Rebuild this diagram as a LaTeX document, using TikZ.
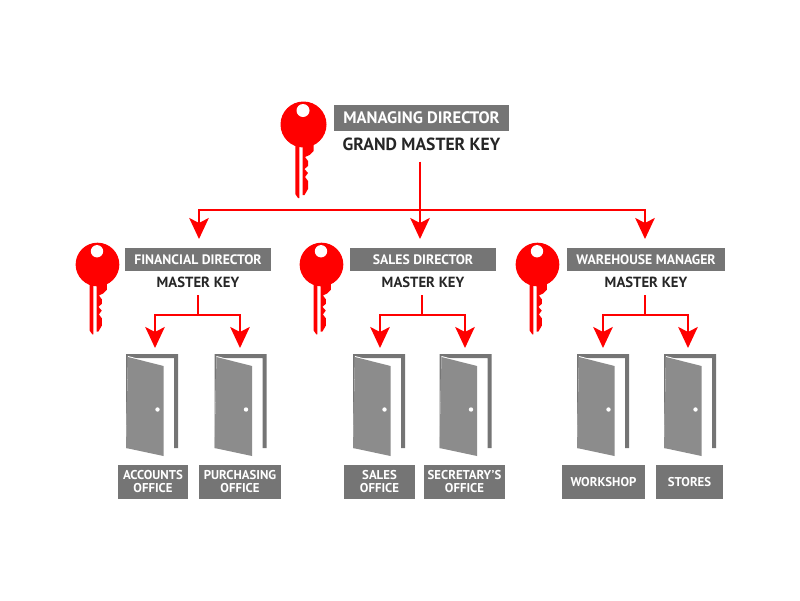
\documentclass[tikz,border=0pt]{standalone}
\usepackage{fontspec}
\setmainfont{PT Sans}
\usetikzlibrary{positioning,arrows.meta}
\definecolor{plate}{HTML}{757575}
\definecolor{leaf}{HTML}{8C8C8C}
\definecolor{keyred}{HTML}{FF0000}
\begin{document}
\begin{tikzpicture}[
x=1pt, y=-1pt,
node distance = 0pt and 0pt,
title/.style={fill=plate, text=white, font=\bfseries\fontsize{13.7}{14}\selectfont, inner sep = 0pt, minimum height = 22.5pt},
topic/.style={title, font=\bfseries\fontsize{16.6}{17}\selectfont, minimum width = 175pt, minimum height = 26pt},
rank/.style={text=black!85, font=\bfseries\fontsize{14.7}{15}\selectfont, inner sep = 0pt, minimum height = 22pt},
toprank/.style={rank, font=\bfseries\fontsize{17.6}{18}\selectfont, minimum height = 26pt},
room/.style={fill=plate, text=white, align=center, font=\bfseries\fontsize{12.8}{13}\selectfont, inner sep = 0pt, minimum height = 33.5pt},
flow/.style={draw=keyred, line width = 2.2pt},
feed/.style={flow, -{Stealth[length=21pt, width=19.5pt, inset=5pt]}},
key/.pic={
  \fill[keyred] (0.5,-0.5) circle (23);
  \fill[white] (0,-14.5) circle (6.5);
  \fill[keyred] (-7.7,20) -- (-3.7,20) -- (-3.7,73) -- (-5,73) -- (-7.7,69) -- cycle;
  \fill[keyred] (-0.3,20) -- (10.5,18) -- (10.5,26) -- (6.5,30) -- (2,32) -- (5,36) -- (5,41) -- (1.5,44) -- (5,48)
    -- (2,52) -- (5,56) -- (5,64) -- (1.5,70) -- (-0.3,70) -- cycle;
},
door/.pic={
  \fill[plate] (0,94) -- (0,0) -- (52,0) -- (52,94) -- (48,94) -- (48,4) -- (4,4) -- (4,94) -- cycle;
  \fill[white] (2,2) -- (38.5,11.5) -- (38.5,103) -- (0,94) -- cycle;
  \fill[leaf] (2,3) -- (37.5,12) -- (37.5,102) -- (0,94) -- cycle;
  \fill[white] (31.5,55.5) circle (2.2);
}]

% keys
\pic at (303,125) {key};
\pic[scale=0.95] at (97,265) {key};
\pic[scale=0.95] at (321,265) {key};
\pic[scale=0.95] at (537,265) {key};

% job titles
\node[topic] (managing) at (421.5,118) {MANAGING DIRECTOR};
\node[toprank] (grand) [below = 0pt of managing] {GRAND MASTER KEY};
\node[title, minimum width = 145.5pt] (financial) at (198,259.5) {FINANCIAL DIRECTOR};
\node[title, minimum width = 146pt] (sales) at (423,259.5) {SALES DIRECTOR};
\node[title, minimum width = 158pt] (warehouse) at (646,259.5) {WAREHOUSE MANAGER};
\node[rank] (mk1) [below = 0pt of financial] {MASTER KEY};
\node[rank] (mk2) [below = 0pt of sales] {MASTER KEY};
\node[rank] (mk3) [below = 0pt of warehouse] {MASTER KEY};

% doors
\pic at (126,354) {door};
\pic at (214.5,354) {door};
\pic at (353,354) {door};
\pic at (439.5,354) {door};
\pic at (577,354) {door};
\pic at (664,354) {door};

% rooms
\node[room, minimum width = 70pt] (accounts) at (153,482) {ACCOUNTS\\OFFICE};
\node[room, minimum width = 82pt] (purchasing) at (240,482) {PURCHASING\\OFFICE};
\node[room, minimum width = 71pt] (salesroom) at (379.5,482) {SALES\\OFFICE};
\node[room, minimum width = 81pt] (secretary) at (464.5,482) {SECRETARY'S\\OFFICE};
\node[room, minimum width = 83pt] (workshop) at (603.5,482) {WORKSHOP};
\node[room, minimum width = 67pt] (stores) at (689.5,482) {STORES};

% junctions and arrow ends
\coordinate (j0) at (420,210);
\coordinate (j1) at (198,315);
\coordinate (j2) at (422,315);
\coordinate (j3) at (645,315);
\coordinate (in1) at (199,239);
\coordinate (in2) at (420,239);
\coordinate (in3) at (645,239);
\coordinate (a1) at (155,348);
\coordinate (a2) at (240,348);
\coordinate (a3) at (380,348);
\coordinate (a4) at (465,348);
\coordinate (a5) at (603,348);
\coordinate (a6) at (688,348);

\draw[flow, shorten <=4pt] (grand.south -| j0) -- (j0);
\draw[feed] (j0) -| (in1);
\draw[feed] (j0) -- (in2);
\draw[feed] (j0) -| (in3);

\draw[flow, shorten <=2pt] (mk1.south -| j1) -- (j1);
\draw[feed] (j1) -| (a1);
\draw[feed] (j1) -| (a2);

\draw[flow, shorten <=2pt] (mk2.south -| j2) -- (j2);
\draw[feed] (j2) -| (a3);
\draw[feed] (j2) -| (a4);

\draw[flow, shorten <=2pt] (mk3.south -| j3) -- (j3);
\draw[feed] (j3) -| (a5);
\draw[feed] (j3) -| (a6);

\useasboundingbox (0,0) rectangle (800,600);
\end{tikzpicture}
\end{document}
